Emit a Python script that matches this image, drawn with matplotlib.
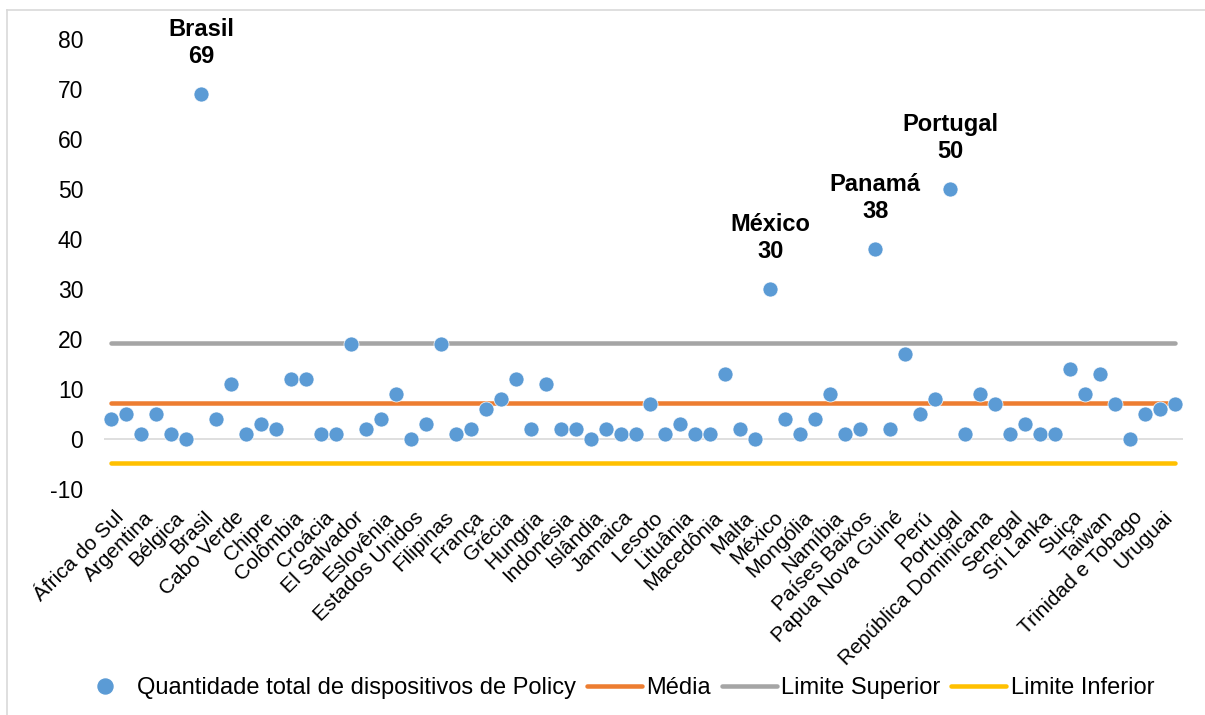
import matplotlib
matplotlib.use('Agg')
import matplotlib.pyplot as plt
import matplotlib.transforms as mtransforms
from matplotlib.lines import Line2D

plt.rcParams['font.family'] = ['Liberation Sans', 'DejaVu Sans']
plt.rcParams['axes.unicode_minus'] = False

# rótulos visíveis no eixo (um a cada dois países)
rotulos = ['África do Sul', 'Argentina', 'Bélgica', 'Brasil', 'Cabo Verde', 'Chipre',
           'Colômbia', 'Croácia', 'El Salvador', 'Eslovênia', 'Estados Unidos', 'Filipinas',
           'França', 'Grécia', 'Hungria', 'Indonésia', 'Islândia', 'Jamaica',
           'Lesoto', 'Lituânia', 'Macedônia', 'Malta', 'México', 'Mongólia',
           'Namíbia', 'Países Baixos', 'Papua Nova Guiné', 'Perú', 'Portugal', 'República Dominicana',
           'Senegal', 'Sri Lanka', 'Suiça', 'Taiwan', 'Trinidad e Tobago', 'Uruguai']

# quantidade total de dispositivos de policy por país (72 países)
valores = [4, 5, 1, 5, 1, 0, 69, 4, 11, 1, 3, 2, 12, 12, 1, 1, 19, 2, 4, 9, 0, 3, 19, 1, 2,
           6, 8, 12, 2, 11, 2, 2, 0, 2, 1, 1, 7, 1, 3, 1, 1, 13, 2, 0, 30, 4, 1, 4,
           9, 1, 2, 38, 2, 17, 5, 8, 50, 1, 9, 7, 1, 3, 1, 1, 14, 9, 13, 7, 0, 5, 6, 7]

media = 7.2
limite_superior = 19.2
limite_inferior = -4.8

destaque_nomes = ['Brasil', 'México', 'Panamá', 'Portugal']
destaque_pos = [6, 44, 51, 56]

azul = '#5B9BD5'
laranja = '#ED7D31'
cinza = '#A5A5A5'
amarelo = '#FFC000'

n = len(valores)
x = list(range(n))

fig = plt.figure(figsize=(12.05, 7.15), dpi=100)
ax = fig.add_axes([103.5 / 1205, 1 - 489 / 715, (1182.5 - 103.5) / 1205, 450 / 715])

ax.axhline(0, color='#D9D9D9', lw=1.2, zorder=1)
ax.plot(x, [media] * n, color=laranja, lw=3.25, solid_capstyle='round', zorder=2)
ax.plot(x, [limite_superior] * n, color=cinza, lw=3.25, solid_capstyle='round', zorder=2)
ax.plot(x, [limite_inferior] * n, color=amarelo, lw=3.25, solid_capstyle='round', zorder=2)
ax.scatter(x, valores, s=117, color=azul, edgecolors='white', linewidths=0.5, zorder=3)

for nome, i in zip(destaque_nomes, destaque_pos):
    ax.annotate(f'{nome}\n{valores[i]}', (i, valores[i]), xytext=(0, 19),
                textcoords='offset points', ha='center', va='bottom',
                fontsize=17, fontweight='bold', annotation_clip=False)

ax.set_xlim(-0.5, n - 0.5)
ax.set_ylim(-10, 80)
ax.set_yticks(range(-10, 81, 10))
ax.set_xticks(range(0, n, 2))
ax.set_xticklabels(rotulos, rotation=45, ha='right', va='top', rotation_mode='anchor', fontsize=15)
ax.tick_params(axis='x', length=0, pad=13.5)
ax.tick_params(axis='y', length=0, pad=14.5, labelsize=16.5)
desloc = mtransforms.ScaledTranslation(3 / 100, 0, fig.dpi_scale_trans)
for lbl in ax.get_xticklabels():
    lbl.set_transform(lbl.get_transform() + desloc)
for s in ax.spines.values():
    s.set_visible(False)

handles = [
    Line2D([], [], marker='o', ls='none', color=azul, markersize=10.8),
    Line2D([], [], color=laranja, lw=3.25, solid_capstyle='round'),
    Line2D([], [], color=cinza, lw=3.25, solid_capstyle='round'),
    Line2D([], [], color=amarelo, lw=3.25, solid_capstyle='round'),
]
nomes_legenda = ['Quantidade total de dispositivos de Policy', 'Média', 'Limite Superior', 'Limite Inferior']
fig.legend(handles, nomes_legenda, loc='center', bbox_to_anchor=(0.511, 0.038), ncol=4,
           frameon=False, fontsize=17, handlelength=2.33, handletextpad=0.2,
           columnspacing=0.45, borderaxespad=0, borderpad=0)

# borda do gráfico (só esquerda e topo aparecem no recorte)
fig.add_artist(Line2D([7.5 / 1205, 7.5 / 1205], [0, 1 - 10 / 715], transform=fig.transFigure,
                      color='#D9D9D9', lw=1.2))
fig.add_artist(Line2D([7.5 / 1205, 1], [1 - 10 / 715, 1 - 10 / 715], transform=fig.transFigure,
                      color='#D9D9D9', lw=1.2))

fig.savefig('out.png', dpi=100)
